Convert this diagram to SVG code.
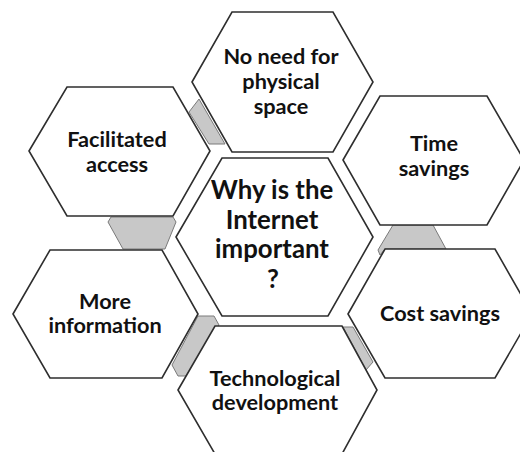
<svg xmlns="http://www.w3.org/2000/svg" width="520" height="452" viewBox="0 0 520 452">
<style>
.hex{fill:#ffffff;stroke:#2e2e2e;stroke-width:1.6;stroke-linejoin:miter}
.con{fill:#c8c8c8;stroke:#7a7a7a;stroke-width:1}
.t{font-family:Lato,"Liberation Sans",sans-serif;font-weight:bold;font-size:21.7px;fill:#111;text-anchor:middle}
.tc{font-size:25.8px}
</style>
<rect width="520" height="452" fill="#ffffff"/>
<g id="connectors">
<polygon class="con" points="189,112 199,99 225,144 209,144"/>
<polygon class="con" points="108,222 111,217 173,217 176,222 165,249 123,249"/>
<polygon class="con" points="393,225 433,225 446,249 385,249 380,255 378,250"/>
<polygon class="con" points="198,316 214,316 219,325 186,376 178,376 172,365"/>
<polygon class="con" points="343,327 353,327 373,362 366,370"/>
</g>
<g id="node-space">
<polygon class="hex" points="192,82 232,12 333,12 373,82 333,152 232,152"/>
<text class="t" x="281" y="64">No need for</text>
<text class="t" x="281" y="89">physical</text>
<text class="t" x="281" y="114">space</text>
</g>
<g id="node-access">
<polygon class="hex" points="29,151 67,87 173,87 210,151 173,216 67,216"/>
<text class="t" x="117" y="147">Facilitated</text>
<text class="t" x="117" y="172">access</text>
</g>
<g id="node-time">
<polygon class="hex" points="343,160 380,96 487,96 524,160 487,225 380,225"/>
<text class="t" x="434" y="151">Time</text>
<text class="t" x="434" y="176">savings</text>
</g>
<g id="node-info">
<polygon class="hex" points="13,314 50,250 162,250 198,314 162,378 50,378"/>
<text class="t" x="105" y="309">More</text>
<text class="t" x="105" y="333">information</text>
</g>
<g id="node-cost">
<polygon class="hex" points="348,314 385,249 495,249 532,314 495,378 385,378"/>
<text class="t" x="440" y="321">Cost savings</text>
</g>
<g id="node-tech">
<polygon class="hex" points="178,390 215,326 342,326 377,390 342,454 215,454"/>
<text class="t" x="275" y="386">Technological</text>
<text class="t" x="275" y="410">development</text>
</g>
<g id="node-center">
<polygon class="hex" points="176,237 222,158 328,158 373,237 328,316 222,316"/>
<text class="t tc" x="272" y="199">Why is the</text>
<text class="t tc" x="272" y="228.5">Internet</text>
<text class="t tc" x="272" y="258">important</text>
<text class="t tc" x="273" y="287.5">?</text>
</g>
</svg>
